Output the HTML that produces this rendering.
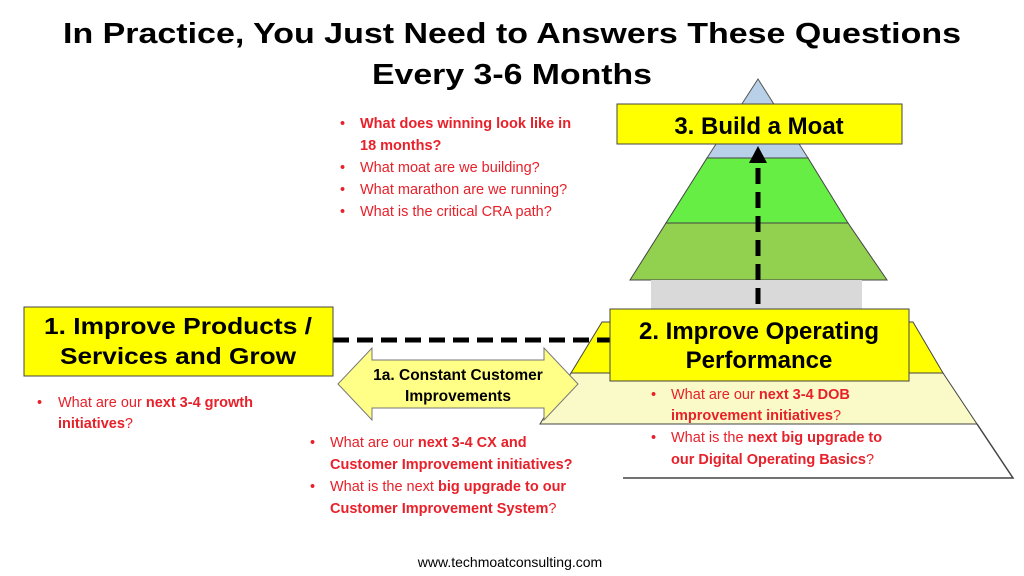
<!DOCTYPE html>
<html><head><meta charset="utf-8"><style>
html,body{margin:0;padding:0;background:#fff;width:1024px;height:576px;overflow:hidden}
svg{display:block;font-family:"Liberation Sans",Arial,sans-serif}
.r{fill:#e8202a;font-size:14.5px}
.b{font-weight:bold}
</style></head><body>
<svg width="1024" height="576" viewBox="0 0 1024 576">
<text x="512" y="43" text-anchor="middle" font-size="29" font-weight="bold" textLength="898" lengthAdjust="spacingAndGlyphs">In Practice, You Just Need to Answers These Questions</text>
<text x="512" y="84" text-anchor="middle" font-size="29" font-weight="bold" textLength="280" lengthAdjust="spacingAndGlyphs">Every 3-6 Months</text>

<!-- top pyramid -->
<polygon points="758,79 707,158 808,158" fill="#b8d0e8" stroke="#555" stroke-width="1"/>
<polygon points="707,158 808,158 848,223 666,223" fill="#66ee44" stroke="#444" stroke-width="1"/>
<polygon points="666,223 848,223 887,280 630,280" fill="#92d050" stroke="#444" stroke-width="1"/>
<rect x="651" y="280" width="211" height="30" fill="#d9d9d9"/>

<!-- lower pyramid -->
<polygon points="623,424 977,424 1013,478 623,478" fill="#fff" stroke="none"/>
<polyline points="623,478 1013,478 977,424" fill="none" stroke="#444" stroke-width="1.5"/>
<polygon points="571,373 943,373 977,424 540,424" fill="#fafac8" stroke="#444" stroke-width="1"/>
<polygon points="602,322 913,322 943,373 571,373" fill="#ffff00" stroke="#444" stroke-width="1"/>

<!-- dashed connectors -->
<line x1="333" y1="340" x2="610" y2="340" stroke="#000" stroke-width="5" stroke-dasharray="16,8"/>
<line x1="758" y1="304" x2="758" y2="162" stroke="#000" stroke-width="5" stroke-dasharray="16,8"/>
<polygon points="758,146 749,163 767,163" fill="#000"/>

<!-- boxes -->
<rect x="617" y="104" width="285" height="40" fill="#ffff00" stroke="#444" stroke-width="1"/>
<text x="759" y="134" text-anchor="middle" font-size="24" font-weight="bold">3. Build a Moat</text>

<rect x="610" y="309" width="299" height="72" fill="#ffff00" stroke="#444" stroke-width="1"/>
<text x="759" y="339" text-anchor="middle" font-size="24" font-weight="bold">2. Improve Operating</text>
<text x="759" y="368" text-anchor="middle" font-size="24" font-weight="bold">Performance</text>

<rect x="24" y="307" width="309" height="69" fill="#ffff00" stroke="#444" stroke-width="1"/>
<text x="178" y="334" text-anchor="middle" font-size="23" font-weight="bold" textLength="268" lengthAdjust="spacingAndGlyphs">1. Improve Products /</text>
<text x="178" y="364" text-anchor="middle" font-size="23" font-weight="bold" textLength="236" lengthAdjust="spacingAndGlyphs">Services and Grow</text>

<!-- double arrow -->
<polygon points="338,384 372,348 372,360 544,360 544,348 578,384 544,420 544,408 372,408 372,420" fill="#ffff88" stroke="#777" stroke-width="1"/>
<text x="458" y="380" text-anchor="middle" font-size="15.5" font-weight="bold">1a. Constant Customer</text>
<text x="458" y="401" text-anchor="middle" font-size="15.5" font-weight="bold">Improvements</text>

<!-- bullets top -->
<g class="r">
<text x="340" y="128">•</text><text x="360" y="128" class="b">What does winning look like in</text>
<text x="360" y="150" class="b">18 months?</text>
<text x="340" y="172">•</text><text x="360" y="172">What moat are we building?</text>
<text x="340" y="194">•</text><text x="360" y="194">What marathon are we running?</text>
<text x="340" y="216">•</text><text x="360" y="216">What is the critical CRA path?</text>

<text x="37" y="407">•</text><text x="58" y="407">What are our <tspan class="b">next 3-4 growth</tspan></text>
<text x="58" y="428" class="b">initiatives<tspan font-weight="normal">?</tspan></text>

<text x="310" y="447">•</text><text x="330" y="447">What are our <tspan class="b">next 3-4 CX and</tspan></text>
<text x="330" y="469" class="b">Customer Improvement initiatives?</text>
<text x="310" y="491">•</text><text x="330" y="491">What is the next <tspan class="b">big upgrade to our</tspan></text>
<text x="330" y="513" class="b">Customer Improvement System<tspan font-weight="normal">?</tspan></text>

<text x="651" y="399">•</text><text x="671" y="399">What are our <tspan class="b">next 3-4 DOB</tspan></text>
<text x="671" y="420" class="b">improvement initiatives<tspan font-weight="normal">?</tspan></text>
<text x="651" y="442">•</text><text x="671" y="442">What is the <tspan class="b">next big upgrade to</tspan></text>
<text x="671" y="464" class="b">our Digital Operating Basics<tspan font-weight="normal">?</tspan></text>
</g>

<text x="510" y="567" text-anchor="middle" font-size="14">www.techmoatconsulting.com</text>
</svg>
</body></html>
